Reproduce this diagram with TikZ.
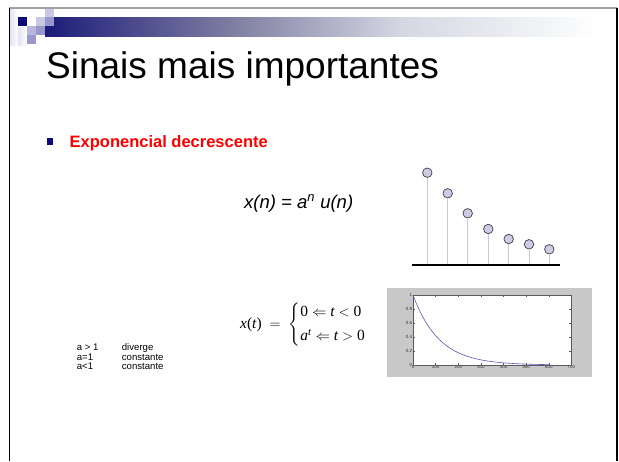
\documentclass[tikz,border=0pt]{standalone}
\usepackage{amsmath}
\usepackage{fontspec}
\setmainfont{Liberation Sans}
\newfontfamily\tmsfont{Liberation Serif}
\usetikzlibrary{positioning}
\definecolor{SLnavy}{RGB}{12,12,120}
\definecolor{SLband}{RGB}{28,28,122}
\definecolor{SLbandmid}{RGB}{130,130,164}
\definecolor{SLbandlight}{RGB}{212,214,226}
\definecolor{SLlav}{RGB}{200,200,230}
\definecolor{SLlavmid}{RGB}{184,184,222}
\definecolor{SLmid}{RGB}{152,152,204}
\definecolor{SLpale}{RGB}{226,226,242}
\definecolor{SLframe}{RGB}{160,160,160}
\definecolor{SLstem}{RGB}{200,200,225}
\definecolor{SLdot}{RGB}{204,204,228}
\definecolor{SLdotline}{RGB}{60,60,70}
\definecolor{SLfig}{RGB}{200,200,200}
\definecolor{SLaxis}{RGB}{90,90,90}
\definecolor{SLcurve}{RGB}{90,90,190}
\newcommand\tmi[1]{\text{\tmsfont\itshape #1}}
\newcommand\tmn[1]{\text{\tmsfont #1}}
\tikzset{
  sq/.style={fill=#1,draw=none},
  stem/.style={draw=SLstem,line width=1pt},
  dot/.style={circle,draw=SLdotline,fill=SLdot,line width=0.7pt,
              minimum size=9.5pt,inner sep=0pt},
  txt/.style={inner sep=0pt,anchor=base west},
  ticklbl/.style={font=\fontsize{4.5}{5}\selectfont,inner sep=0.6pt,text=black!80},
  tick/.style={draw=SLaxis,line width=0.3pt},
  curve/.style={draw=SLcurve,line width=0.6pt}
}
\begin{document}
\begin{tikzpicture}[x=1pt,y=-1pt]
  \useasboundingbox (0,0) rectangle (619,461);
  \fill[white] (0,0) rectangle (619,461);

  % header band and squares
  \shade[left color=SLband,right color=SLbandmid] (45,17) rectangle (240,36);
  \shade[left color=SLbandmid,right color=SLbandlight] (240,17) rectangle (400,36);
  \shade[left color=SLbandlight,right color=white] (400,17) rectangle (600,36);
  \shade[left color=SLpale,right color=white] (10,9) rectangle (18,45);
  \shade[left color=SLpale,right color=white] (18,27) rectangle (27,45);
  \fill[sq=SLnavy] (18,17) rectangle ++(9,9);
  \fill[sq=SLlav] (36,17) rectangle ++(9,9);
  \fill[sq=SLlav] (45,8) rectangle ++(9,9);
  \fill[sq=SLmid] (45,17) rectangle ++(9,9);
  \fill[sq=SLlavmid] (27,26) rectangle ++(9,9);
  \fill[sq=SLmid] (36,26) rectangle ++(9,9);
  \fill[sq=SLmid] (27,35) rectangle ++(9,9);

  % frame
  \draw[SLframe,line width=1.5pt] (9,8) -- (617,8);
  \draw[black,line width=1.3pt] (9.6,8) -- (9.6,461);
  \draw[black,line width=1.3pt] (617,8) -- (617,461);

  % title and bullet
  \node[txt,font=\fontsize{37}{40}\selectfont] (title) at (46,78) {Sinais mais importantes};
  \fill[SLnavy] (47,138) rectangle (53,144.5);
  \node[txt,font=\fontsize{16.5}{18}\selectfont\bfseries,text=red] (expo) at (69.5,147) {Exponencial decrescente};

  % discrete form
  \node[txt,font=\fontsize{18.5}{20}\selectfont\itshape] (xn) at (244,208) {x(n) = a\textsuperscript{n} u(n)};
  \draw[black,line width=1.2pt] (412,265) -- (560,265);
  \foreach \x/\y [count=\i] in {427.3/172.7,447.7/193.3,467.7/213.3,488.3/229,508.7/239,529/244.3,549.3/249.3} {
    \node[dot] (d\i) at (\x,\y) {};
    \draw[stem] (\x,264.4) -- (d\i.south);
  }

  % continuous form
  \node[anchor=west,inner sep=0pt,font=\fontsize{15.5}{18}\selectfont] (xt) at (240,325)
    {$\tmi{x}\tmn{(}\tmi{t}\tmn{)}\;=\;\left\{\begin{array}{@{}l@{}}
       \tmn{0}\Leftarrow\tmi{t}<\tmn{0}\\[6pt]
       \tmi{a}^{\tmi{t}}\Leftarrow\tmi{t}>\tmn{0}
     \end{array}\right.$};

  % plot
  \fill[SLfig] (387,288) rectangle (592,377);
  \begin{scope}[shift={(413,365)},x=0.2264pt,y=70pt]
    \fill[white] (0,0) rectangle (700,1);
    \draw[curve] plot[domain=0:600,samples=90] (\x,{exp(-\x/115)});
    \foreach \t in {0,100,...,700} {
      \draw[tick] (\t,0) -- ++(0pt,2pt);
      \draw[tick] (\t,1) -- ++(0pt,-2pt);
      \node[ticklbl,anchor=north] (xl\t) at (\t,0) {\t};
    }
    \foreach \v/\l in {0/0,0.2/0.2,0.4/0.4,0.6/0.6,0.8/0.8,1/1} {
      \draw[tick] (0,\v) -- ++(2pt,0pt);
      \draw[tick] (700,\v) -- ++(-2pt,0pt);
      \node[ticklbl,anchor=east] (yl\l) at (0,\v) {\l};
    }
    \draw[SLaxis,line width=0.4pt] (0,0) rectangle (700,1);
  \end{scope}

  % cases
  \foreach \c/\r/\yy [count=\k] in {a > 1/diverge/350.5,a=1/constante/360,a<1/constante/369.5} {
    \node[txt,font=\fontsize{9.6}{11}\selectfont] (cond\k) at (76.7,\yy) {\c};
    \node[txt,font=\fontsize{9.6}{11}\selectfont] (res\k) at (121.7,\yy) {\r};
  }
\end{tikzpicture}
\end{document}
